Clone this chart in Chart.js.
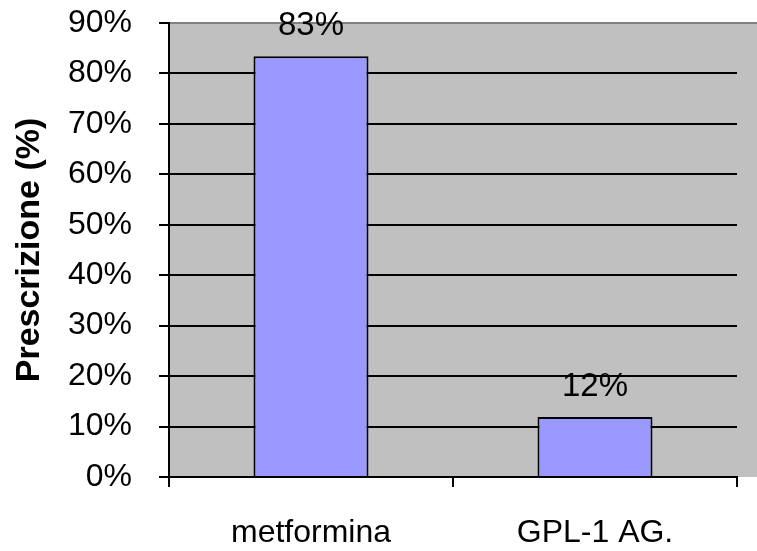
<!DOCTYPE html>
<html>
<head>
  <script src="https://cdn.jsdelivr.net/npm/chart.js"></script>
  <style>
    body { margin: 0; background: #fff; }
    #wrap { width: 757px; height: 551px; }
  </style>
</head>
<body>
  <div id="wrap"><canvas id="chart" width="757" height="551"></canvas></div>
  <script>
    // Data
    const categories = ['metformina', 'GPL-1 AG.'];
    const prescrizione = [83.4, 11.9];
    const yTicks = [0, 10, 20, 30, 40, 50, 60, 70, 80, 90];
    const yTitle = 'Prescrizione (%)';

    const FONT = "'Liberation Sans', Arial, sans-serif";

    // gray plot background stretched to the right edge, plus the top border line
    const plotBg = {
      id: 'plotBg',
      beforeDraw(chart) {
        const { ctx, chartArea } = chart;
        ctx.save();
        ctx.fillStyle = '#C0C0C0';
        ctx.fillRect(chartArea.left, chartArea.top, chart.width - chartArea.left, chartArea.bottom - chartArea.top);
        ctx.strokeStyle = '#808080';
        ctx.lineWidth = 2;
        ctx.beginPath();
        ctx.moveTo(chartArea.left, chartArea.top);
        ctx.lineTo(chart.width, chartArea.top);
        ctx.stroke();
        ctx.restore();
      }
    };

    // value labels above the bars
    const barLabels = {
      id: 'barLabels',
      afterDatasetsDraw(chart) {
        const { ctx } = chart;
        const meta = chart.getDatasetMeta(0);
        ctx.save();
        ctx.font = '33px ' + FONT;
        ctx.fillStyle = '#000';
        ctx.textAlign = 'center';
        ctx.textBaseline = 'alphabetic';
        meta.data.forEach((bar, i) => {
          ctx.fillText(Math.round(prescrizione[i]) + '%', bar.x, bar.y - 21);
        });
        ctx.restore();
      }
    };

    new Chart(document.getElementById('chart'), {
      type: 'bar',
      data: {
        labels: categories,
        datasets: [{
          data: prescrizione,
          backgroundColor: '#9999FF',
          borderColor: '#000',
          borderWidth: 2,
          categoryPercentage: 1,
          barPercentage: 0.405
        }]
      },
      options: {
        responsive: false,
        animation: false,
        layout: { padding: { top: 23, right: 20 } },
        plugins: {
          legend: { display: false },
          tooltip: { enabled: false }
        },
        scales: {
          x: {
            offset: true,
            grid: {
              offset: true,
              drawOnChartArea: false,
              drawTicks: true,
              tickLength: 10,
              color: '#000',
              lineWidth: 2
            },
            border: { color: '#000', width: 2 },
            ticks: {
              color: '#000',
              font: { family: FONT, size: 32 },
              padding: 27,
              maxRotation: 0
            },
            afterFit(scale) {
              scale.height = 74;
              scale.paddingLeft = 0;
              scale.paddingRight = 0;
            }
          },
          y: {
            min: 0,
            max: 90,
            afterBuildTicks(scale) { scale.ticks = yTicks.map(v => ({ value: v })); },
            grid: {
              color: ctx => (ctx.tick && ctx.tick.value === 90) ? 'rgba(0,0,0,0)' : '#000',
              lineWidth: 2,
              tickLength: 10,
              tickColor: '#000'
            },
            border: { color: '#000', width: 2 },
            ticks: {
              color: '#000',
              font: { family: FONT, size: 32 },
              padding: 27,
              callback: v => v + '%'
            },
            title: {
              display: true,
              text: yTitle,
              color: '#000',
              font: { family: FONT, size: 34, weight: 'bold' },
              padding: { top: 9, bottom: 0 }
            },
            afterFit(scale) {
              scale.width = 169;
              scale.paddingTop = 0;
              scale.paddingBottom = 0;
            }
          }
        }
      },
      plugins: [plotBg, barLabels]
    });
  </script>
</body>
</html>
